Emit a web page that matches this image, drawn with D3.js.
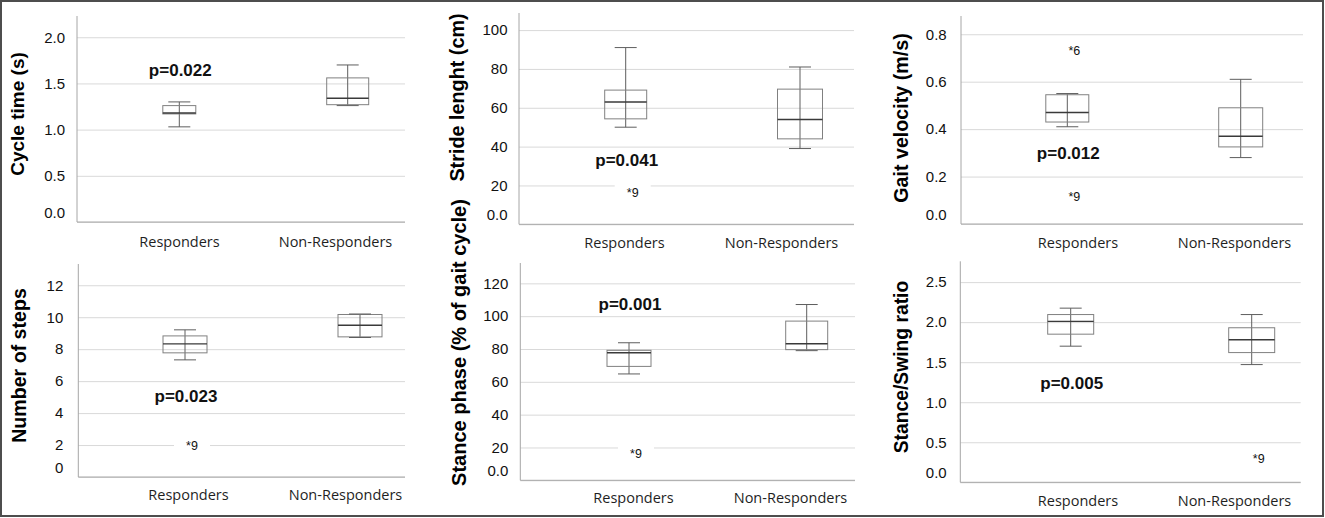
<!DOCTYPE html>
<html>
<head>
<meta charset="utf-8">
<script src="https://cdn.jsdelivr.net/npm/d3@7"></script>
<style>
  body { margin: 0; background: #fff; }
  svg { display: block; }
</style>
</head>
<body>
<svg id="fig" width="1325" height="518"></svg>
<script>
// groups compared in every panel
const groups = ["Responders", "Non-Responders"];

// y titles, one per panel (spelling as in the figure)
const measures = ["Cycle time (s)", "Stride lenght (cm)", "Gait velocity (m/s)",
                  "Number of steps", "Stance phase (% of gait cycle)", "Stance/Swing ratio"];

// box stats per group: [min, q1, median, q3, max]
const cycleTime     = [[1.03, 1.17, 1.18, 1.26, 1.30], [1.26, 1.27, 1.34, 1.56, 1.70]];
const strideLength  = [[50, 54.3, 63, 69.1, 91], [39, 44, 54, 69.6, 81]];
const gaitVelocity  = [[0.41, 0.43, 0.47, 0.545, 0.55], [0.28, 0.325, 0.37, 0.49, 0.61]];
const numberOfSteps = [[7.33, 7.77, 8.33, 8.83, 9.21], [8.73, 8.77, 9.5, 10.17, 10.2]];
const stancePhase   = [[64.8, 69.4, 77.7, 79.2, 83.8], [79, 79.6, 83.2, 97, 107.1]];
const stanceSwing   = [[1.70, 1.85, 2.01, 2.095, 2.175], [1.47, 1.62, 1.78, 1.93, 2.095]];
const boxStats = [cycleTime, strideLength, gaitVelocity, numberOfSteps, stancePhase, stanceSwing];

// outliers: [group index, value, case number]
const outliers = [[], [[0, 16.3, 9]], [[0, 0.73, 6], [0, 0.115, 9]], [[0, 1.96, 9]], [[0, 16.3, 9]], [[1, 0.29, 9]]];

const pValues = ["p=0.022", "p=0.041", "p=0.012", "p=0.023", "p=0.001", "p=0.005"];
const pLevel  = [1.65, 33.4, 0.30, 5.1, 107.3, 1.24];

const yTicks = [[0, 0.5, 1, 1.5, 2], [0, 20, 40, 60, 80, 100], [0, 0.2, 0.4, 0.6, 0.8],
                [0, 2, 4, 6, 8, 10, 12], [0, 20, 40, 60, 80, 100, 120], [0, 0.5, 1, 1.5, 2, 2.5]];
const yTickLabels = [["0.0", "0.5", "1.0", "1.5", "2.0"], ["0.0", "20", "40", "60", "80", "100"],
                     ["0.0", "0.2", "0.4", "0.6", "0.8"], ["0", "2", "4", "6", "8", "10", "12"],
                     ["0.0", "20", "40", "60", "80", "100", "120"], ["0.0", "0.5", "1.0", "1.5", "2.0", "2.5"]];
const yMax = [2.23, 108.8, 0.877, 13.33, 132.4, 2.76];

// where each panel sits on the page
const layout = [
  {left: 77,    right: 405,    top: 16,    zero: 222,   boxX: [179.3, 347.7],  boxW: [33, 42], labX: [179, 335],     labY: 247, tickX: 65,    titleX: 17,  titleY: 114,   titleSize: 19},
  {left: 519,   right: 854,    top: 13,    zero: 224.3, boxX: [625.7, 800],    boxW: [42, 45], labX: [624, 781],     labY: 248, tickX: 507.5, titleX: 457, titleY: 97.5,  titleSize: 19.8},
  {left: 961,   right: 1303,   top: 16,    zero: 224,   boxX: [1067.3, 1240.7], boxW: [43, 44], labX: [1077.5, 1234], labY: 248, tickX: 946.7, titleX: 901, titleY: 118,   titleSize: 19.7},
  {left: 78.3,  right: 405,    top: 264,   zero: 477,   boxX: [185, 360],      boxW: [44, 44], labX: [188, 345],     labY: 500, tickX: 63.3,  titleX: 19,  titleY: 365.5, titleSize: 19.6},
  {left: 520.3, right: 855,    top: 263,   zero: 480.3, boxX: [629, 806.7],    boxW: [44, 42], labX: [633, 790],     labY: 503, tickX: 508.3, titleX: 459, titleY: 342.5, titleSize: 20},
  {left: 960.3, right: 1300.7, top: 261.3, zero: 482.3, boxX: [1070.7, 1251.7], boxW: [46, 46], labX: [1077.5, 1234], labY: 506, tickX: 946.7, titleX: 901, titleY: 367,   titleSize: 19.3}
];

const svg = d3.select("#fig");
const arial = "'Liberation Sans', Arial, sans-serif";
const capW = 22;

// outer frame
svg.append("rect")
  .attr("x", 1).attr("y", 1).attr("width", 1322).attr("height", 515)
  .attr("fill", "none").attr("stroke", "#4d4d4d").attr("stroke-width", 2);

layout.forEach((L, i) => {
  const g = svg.append("g").attr("class", "panel");

  const y = d3.scaleLinear().domain([0, yMax[i]]).range([L.zero, L.top]);
  const xBox = d3.scalePoint().domain(groups).range(L.boxX);
  const xLab = d3.scalePoint().domain(groups).range(L.labX);

  // y axis with gridlines
  const yAxis = g.append("g")
    .attr("transform", `translate(${L.left},0)`)
    .call(d3.axisLeft(y)
      .tickValues(yTicks[i])
      .tickFormat((d, j) => yTickLabels[i][j])
      .tickSize(-(L.right - L.left))
      .tickPadding(L.left - L.tickX));
  yAxis.select(".domain").remove();
  yAxis.selectAll("line").attr("stroke", "#d9d9d9");
  yAxis.selectAll("text")
    .attr("fill", "#111")
    .style("font-family", arial)
    .style("font-size", "15px")
    .attr("dy", (d, j) => j === 0 ? "-0.3em" : "0.32em");

  // axis lines
  g.append("line")
    .attr("x1", L.left).attr("x2", L.left).attr("y1", L.top).attr("y2", L.zero)
    .attr("stroke", "#a6a6a6");
  g.append("line")
    .attr("x1", L.left).attr("x2", L.right).attr("y1", L.zero).attr("y2", L.zero)
    .attr("stroke", "#a6a6a6");

  // group labels
  const xAxis = g.append("g")
    .attr("transform", `translate(0,${L.zero})`)
    .call(d3.axisBottom(xLab).tickSize(0).tickPadding(L.labY - L.zero - 10.3));
  xAxis.select(".domain").remove();
  xAxis.selectAll("text")
    .attr("fill", "#1f1f1f")
    .style("font-family", "'Open Sans', sans-serif")
    .style("font-size", "14.5px");

  // y title
  g.append("text")
    .attr("transform", `translate(${L.titleX},${L.titleY}) rotate(-90)`)
    .attr("text-anchor", "middle")
    .attr("dy", "0.35em")
    .style("font-family", arial)
    .style("font-weight", "bold")
    .style("font-size", L.titleSize + "px")
    .attr("fill", "#000")
    .text(measures[i]);

  // boxes
  const boxes = g.selectAll(".box")
    .data(boxStats[i])
    .join("g")
    .attr("class", "box");

  boxes.append("line")
    .attr("x1", (d, j) => xBox(groups[j])).attr("x2", (d, j) => xBox(groups[j]))
    .attr("y1", d => y(d[0])).attr("y2", d => y(d[4]))
    .attr("stroke", "#5e5e5e");
  boxes.append("rect")
    .attr("x", (d, j) => xBox(groups[j]) - L.boxW[j] / 2)
    .attr("width", (d, j) => L.boxW[j])
    .attr("y", d => y(d[3]))
    .attr("height", d => y(d[1]) - y(d[3]))
    .attr("fill", "none")
    .attr("stroke", "#808080");
  boxes.append("line")
    .attr("x1", (d, j) => xBox(groups[j]) - L.boxW[j] / 2)
    .attr("x2", (d, j) => xBox(groups[j]) + L.boxW[j] / 2)
    .attr("y1", d => y(d[2])).attr("y2", d => y(d[2]))
    .attr("stroke", "#3a3a3a").attr("stroke-width", 1.4);
  [0, 4].forEach(k => {
    boxes.append("line")
      .attr("x1", (d, j) => xBox(groups[j]) - capW / 2)
      .attr("x2", (d, j) => xBox(groups[j]) + capW / 2)
      .attr("y1", d => y(d[k])).attr("y2", d => y(d[k]))
      .attr("stroke", "#5e5e5e");
  });

  // outliers, labelled "*case"
  const out = g.selectAll(".outlier")
    .data(outliers[i])
    .join("g")
    .attr("class", "outlier")
    .attr("transform", d => `translate(${xBox(groups[d[0]]) + 7},${y(d[1])})`);
  out.append("rect")
    .attr("x", -18).attr("y", -8).attr("width", 36).attr("height", 16)
    .attr("fill", "#fff");
  out.append("text")
    .attr("text-anchor", "middle")
    .attr("dy", "0.35em")
    .style("font-family", arial)
    .style("font-size", "12.5px")
    .attr("fill", "#111")
    .text(d => "*" + d[2]);

  // p value
  g.append("text")
    .attr("x", xBox(groups[0]) + 1)
    .attr("y", y(pLevel[i]))
    .attr("dy", "0.36em")
    .attr("text-anchor", "middle")
    .style("font-family", arial)
    .style("font-weight", "bold")
    .style("font-size", "17px")
    .attr("fill", "#111")
    .text(pValues[i]);
});
</script>
</body>
</html>
